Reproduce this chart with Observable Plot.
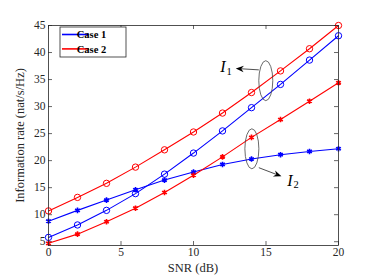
<!DOCTYPE html>
<html>
<head>
<meta charset="utf-8">
<script src="https://cdn.jsdelivr.net/npm/d3@7"></script>
<script src="https://cdn.jsdelivr.net/npm/@observablehq/plot@0.6"></script>
<style>
  html, body { margin: 0; padding: 0; background: #fff; }
  #chart svg { display: block; }
</style>
</head>
<body>
<div id="chart"></div>
<script>
// ---- data ----
const snr = [0, 2, 4, 6, 8, 10, 12, 14, 16, 18, 20];
const case1I1 = [5.8, 8.1, 10.8, 13.9, 17.5, 21.4, 25.5, 29.8, 34.1, 38.6, 43.1];
const case2I1 = [10.7, 13.2, 15.8, 18.8, 22.0, 25.3, 28.8, 32.6, 36.6, 40.7, 45.0];
const case1I2 = [8.8, 10.8, 12.7, 14.6, 16.4, 17.9, 19.3, 20.3, 21.1, 21.7, 22.2];
const case2I2 = [4.7, 6.4, 8.7, 11.2, 14.1, 17.3, 20.7, 24.3, 27.6, 31.0, 34.4];
const xTicks = [0, 5, 10, 15, 20];
const yTicks = [5, 10, 15, 20, 25, 30, 35, 40, 45];
const seriesNames = ["Case 1", "Case 2"];
const seriesColors = ["#0000ff", "#ff0000"];
const xLabel = "SNR (dB)";
const yLabel = "Information rate (nat/s/Hz)";

// annotations (data coordinates)
const ellipseCenters = [{x: 15.02, y: 34.7}, {x: 14.06, y: 22.1}];
const arrowSegments = [
  {x1: 14.54, y1: 36.7, x2: 12.95, y2: 36.96},
  {x1: 14.54, y1: 18.6, x2: 16.1, y2: 17.0}
];
const labelMain = [{x: 11.84, y: 36.4, t: "I"}, {x: 16.47, y: 15.3, t: "I"}];
const labelSub = [{x: 12.27, y: 35.85, t: "1"}, {x: 16.9, y: 15.0, t: "2"}];

const rows = (ys, name) => snr.map((x, i) => ({x, y: ys[i], name}));
const i1Rows = [...rows(case1I1, "Case 1"), ...rows(case2I1, "Case 2")];
const i2Rows = [...rows(case1I2, "Case 1"), ...rows(case2I2, "Case 2")];

const axisColor = "#262626";
const serif = "'Liberation Serif', 'DejaVu Serif', serif";

function ellipses(index, scales) {
  const g = d3.create("svg:g").attr("fill", "none").attr("stroke", "#444").attr("stroke-width", 0.8);
  for (const e of ellipseCenters) {
    g.append("ellipse").attr("cx", scales.x(e.x)).attr("cy", scales.y(e.y)).attr("rx", 7).attr("ry", 20);
  }
  return g.node();
}

function arrows(index, scales) {
  const g = d3.create("svg:g");
  for (const a of arrowSegments) {
    const x1 = scales.x(a.x1), y1 = scales.y(a.y1), x2 = scales.x(a.x2), y2 = scales.y(a.y2);
    const ang = Math.atan2(y2 - y1, x2 - x1);
    const L = 8, W = 3.2, back = 5.5;
    const ux = Math.cos(ang), uy = Math.sin(ang), px = -uy, py = ux;
    const bx = x2 - ux * L, by = y2 - uy * L;
    const nx = x2 - ux * back, ny = y2 - uy * back;
    g.append("line").attr("x1", x1).attr("y1", y1).attr("x2", nx).attr("y2", ny)
      .attr("stroke", "#222").attr("stroke-width", 0.8);
    g.append("path")
      .attr("d", `M${x2},${y2}L${bx + px * W},${by + py * W}L${nx},${ny}L${bx - px * W},${by - py * W}Z`)
      .attr("fill", "#000");
  }
  return g.node();
}

function xAxisLabel(index, scales, values, dims) {
  const cx = dims.marginLeft + (dims.width - dims.marginLeft - dims.marginRight) / 2;
  const t = d3.create("svg:text").attr("font-family", serif).attr("fill", axisColor)
    .attr("text-anchor", "middle").attr("x", cx).attr("y", dims.height - 8)
    .attr("font-size", 12.5).text(xLabel);
  return t.node();
}

function legend(index, scales, values, dims) {
  const x0 = dims.marginLeft + 12, y0 = dims.marginTop + 2;
  const g = d3.create("svg:g");
  g.append("rect").attr("x", x0).attr("y", y0).attr("width", 66).attr("height", 30)
    .attr("fill", "#fff").attr("stroke", axisColor).attr("stroke-width", 0.8);
  seriesNames.forEach((n, i) => {
    const yy = y0 + 7.5 + i * 14.4;
    g.append("line").attr("x1", x0 + 2).attr("x2", x0 + 29).attr("y1", yy).attr("y2", yy)
      .attr("stroke", seriesColors[i]).attr("stroke-width", 1.6);
    g.append("text").attr("x", x0 + 31.5).attr("y", yy).attr("dy", "0.35em")
      .attr("font-family", serif).attr("font-weight", "bold").attr("font-size", 10.5)
      .attr("fill", "#000").text(n);
  });
  return g.node();
}

const chart = Plot.plot({
  width: 374,
  height: 280,
  marginLeft: 48,
  marginRight: 36,
  marginTop: 25,
  marginBottom: 35,
  style: {fontFamily: serif, fontSize: "11.5px", color: axisColor, background: "#fff"},
  x: {domain: [0, 20]},
  y: {domain: [4.3, 45]},
  color: {domain: seriesNames, range: seriesColors},
  marks: [
    Plot.axisX(xTicks, {tickSize: 0, tickPadding: 2.5, fontSize: 11.5, label: null, fill: axisColor}),
    Plot.axisY(yTicks, {tickSize: 0, tickPadding: 3, fontSize: 11.5, label: null, fill: axisColor}),
    Plot.axisY(yTicks, {tickSize: 0, tickFormat: () => "", fontSize: 12.5, label: yLabel, labelAnchor: "center", labelArrow: "none", labelOffset: 33, fill: axisColor}),
    xAxisLabel,
    Plot.tickX(xTicks, {x: d => d, insetTop: 216, stroke: axisColor, strokeWidth: 0.7}),
    Plot.tickX(xTicks, {x: d => d, insetBottom: 216, stroke: axisColor, strokeWidth: 0.7}),
    Plot.tickY(yTicks, {y: d => d, insetLeft: 286, stroke: axisColor, strokeWidth: 0.7}),
    Plot.tickY(yTicks, {y: d => d, insetRight: 286, stroke: axisColor, strokeWidth: 0.7}),
    Plot.line(i1Rows, {x: "x", y: "y", z: "name", stroke: "name", strokeWidth: 1.1}),
    Plot.line(i2Rows, {x: "x", y: "y", z: "name", stroke: "name", strokeWidth: 1.1}),
    Plot.dot(i1Rows, {x: "x", y: "y", stroke: "name", r: 3.2, strokeWidth: 1, fill: "none"}),
    Plot.dot(i2Rows, {x: "x", y: "y", stroke: "name", symbol: "asterisk", r: 2.6, strokeWidth: 1.6}),
    Plot.frame({stroke: axisColor, strokeWidth: 0.8}),
    ellipses,
    arrows,
    Plot.text(labelMain, {x: "x", y: "y", text: "t", textAnchor: "start", lineAnchor: "bottom", fontSize: 16, fontStyle: "italic", fontFamily: serif, fill: "#000"}),
    Plot.text(labelSub, {x: "x", y: "y", text: "t", textAnchor: "start", lineAnchor: "bottom", fontSize: 10.5, fontFamily: serif, fill: "#000"}),
    legend
  ]
});
document.getElementById("chart").append(chart);
</script>
</body>
</html>
